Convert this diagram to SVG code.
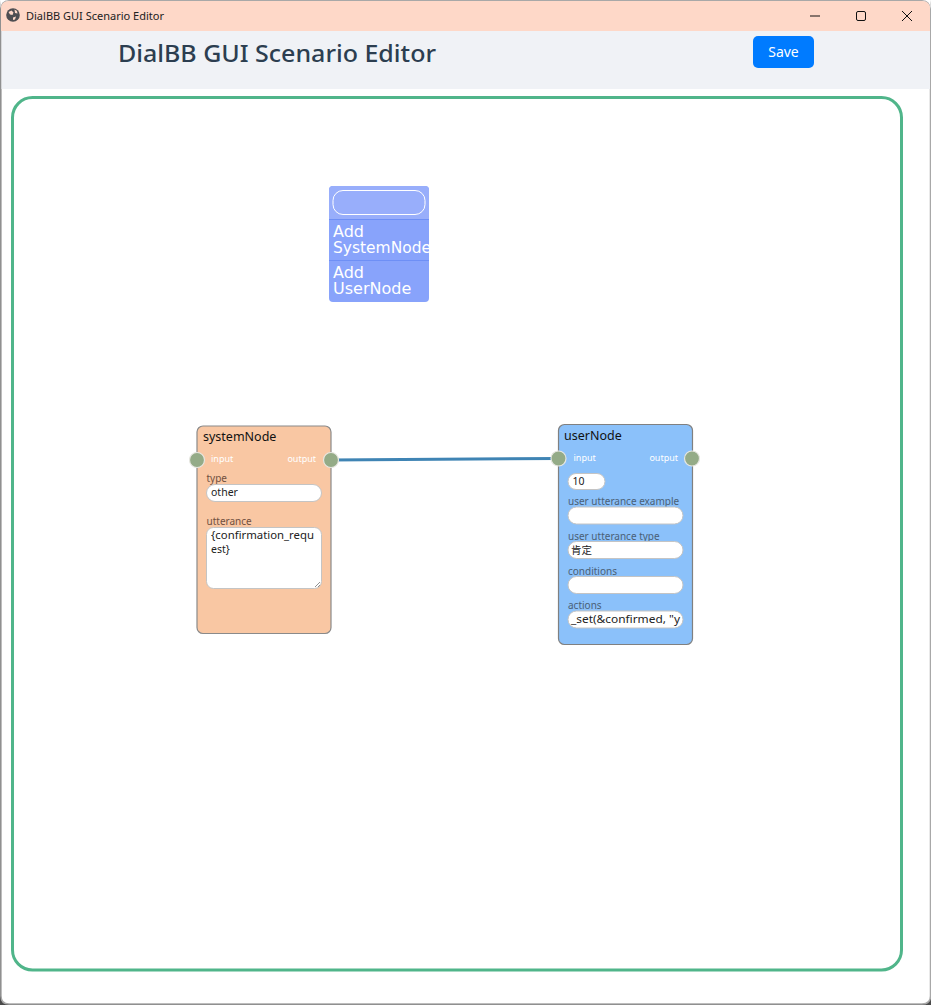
<svg xmlns="http://www.w3.org/2000/svg" width="931" height="1005" viewBox="0 0 931 1005">
<defs>
<style>
text{font-family:"Noto Sans","Open Sans","Noto Sans CJK JP",sans-serif;white-space:pre}
.lbl{font-size:10px;fill:#4a6076}
.lblo{font-size:10px;fill:#70503f}
.in{font-size:10.5px;fill:#222}
.pt{font-size:9px;fill:#fff}
.ttl{font-size:12.5px;fill:#111}
.fld{fill:#fff;stroke:#c4c4c4;stroke-width:1}
.port{fill:#94ab87;stroke:#e6e6e0;stroke-width:1.2}
.menu{font-family:"DejaVu Sans","Noto Sans",sans-serif;font-size:16px;fill:#fff}
</style>
</defs>
<rect x="0" y="0" width="931" height="1005" fill="#4a4a4a"/>
<path d="M9 0.500H922Q930.500 0.500 930.500 9V996Q930.500 1004 922 1004H9Q1 1004 1 996V9Q1 0.500 9 0.500Z" fill="#fff" stroke="#a8a8a8" stroke-width="1.500"/>
<path d="M0 0H9Q0.500 0.500 0.500 9ZM931 0H922Q930.500 0.500 930.500 9Z" fill="#fff"/>
<g id="titlebar">
<path d="M1 31V9Q1 1 9 1H922Q930 1 930 9V31Z" fill="#fed8c8"/>
<circle cx="13" cy="15" r="6.800" fill="#4e4e52"/>
<path d="M8.500 12l3-1.500 2 2-1 2.500-2.500-.5zM14.500 9.500l2.500 1.500.5 2.500-2.500-.5zM13 17.500l3-1-1 3-2 .5z" fill="#fed8c8"/>
<text x="26" y="20" font-size="11" fill="#222">DialBB GUI Scenario Editor</text>
<path d="M810 16H820" stroke="#111" stroke-width="1"/>
<rect x="856.500" y="11.500" width="9" height="9" rx="1.500" fill="none" stroke="#111"/>
<path d="M902 11L912 21M912 11L902 21" stroke="#111" stroke-width="1"/>
</g>
<g id="header">
<rect x="1.500" y="31" width="928.500" height="58" fill="#f0f2f6"/>
<text x="118" y="62" font-size="24" font-weight="500" fill="#2c3e50" textLength="318" lengthAdjust="spacingAndGlyphs">DialBB GUI Scenario Editor</text>
<rect x="753" y="36" width="61" height="32" rx="5" fill="#007bff"/>
<text x="783.500" y="57" font-size="14" fill="#fff" text-anchor="middle">Save</text>
</g>
<rect id="canvas" x="12.500" y="97.500" width="889" height="872.500" rx="20" fill="#fff" stroke="#50b58a" stroke-width="3"/>
<g id="context-menu">
<rect x="329" y="186" width="100" height="116" rx="4" fill="#88a3fb"/>
<path d="M333 186H425Q429 186 429 190V219H329V190Q329 186 333 186Z" fill="#98aefb"/>
<rect x="333" y="190.500" width="92" height="24" rx="10" fill="#98aefb" stroke="#fff" stroke-width="1"/>
<path d="M329 219.500H429M329 260.500H429" stroke="#6e8ff5" stroke-width="1"/>
<text class="menu" x="333" y="237">Add</text>
<text class="menu" x="333" y="253" textLength="98" lengthAdjust="spacingAndGlyphs">SystemNode</text>
<text class="menu" x="333" y="278">Add</text>
<text class="menu" x="333" y="294">UserNode</text>
</g>
<g id="connectors">
<path d="M331 460L558 458.500" fill="none" stroke="#3f84b4" stroke-width="3"/>
</g>
<g id="systemNode">
<rect x="197" y="426" width="134" height="207.500" rx="6" fill="#f9c7a3" stroke="#8a8a8a" stroke-width="1.200"/>
<text class="ttl" x="203" y="441">systemNode</text>
<circle class="port" cx="197" cy="460" r="7.500"/>
<circle class="port" cx="331" cy="460" r="7.500"/>
<text class="pt" x="211" y="462">input</text>
<text class="pt" x="316" y="462" text-anchor="end">output</text>
<text class="lblo" x="206.500" y="482">type</text>
<rect class="fld" x="206.500" y="484.500" width="115" height="17" rx="8.500"/>
<text class="in" x="211" y="496">other</text>
<text class="lblo" x="206.500" y="525">utterance</text>
<rect class="fld" x="206.500" y="527.500" width="115" height="61" rx="7"/>
<text class="in" x="211" y="539" textLength="103" lengthAdjust="spacingAndGlyphs">{confirmation_requ</text>
<text class="in" x="211" y="553">est}</text>
<path d="M320 582L315 587M320 585L318 587" stroke="#777" stroke-width="0.800"/>
</g>
<g id="userNode">
<rect x="558.500" y="424.500" width="134" height="220" rx="6" fill="#8bc1fa" stroke="#808080" stroke-width="1.200"/>
<text class="ttl" x="564" y="440">userNode</text>
<circle class="port" cx="558.500" cy="458.500" r="7.500"/>
<circle class="port" cx="692" cy="458.500" r="7.500"/>
<text class="pt" x="573.500" y="461">input</text>
<text class="pt" x="678" y="461" text-anchor="end">output</text>
<rect class="fld" x="568" y="473.500" width="37" height="16" rx="8"/>
<text class="in" x="572.500" y="485">10</text>
<text class="lbl" x="568" y="505">user utterance example</text>
<rect class="fld" x="568" y="507" width="115" height="17" rx="8.500"/>
<text class="lbl" x="568" y="540">user utterance type</text>
<rect class="fld" x="568" y="541.500" width="115" height="17" rx="8.500"/>
<text class="in" x="571" y="554" font-size="11.500">肯定</text>
<text class="lbl" x="568" y="575">conditions</text>
<rect class="fld" x="568" y="576.500" width="115" height="17" rx="8.500"/>
<text class="lbl" x="568" y="609">actions</text>
<rect class="fld" x="568" y="611" width="115" height="17" rx="8.500"/>
<text class="in" x="571" y="623" textLength="109" lengthAdjust="spacingAndGlyphs">_set(&amp;confirmed, "y</text>
</g>
</svg>
